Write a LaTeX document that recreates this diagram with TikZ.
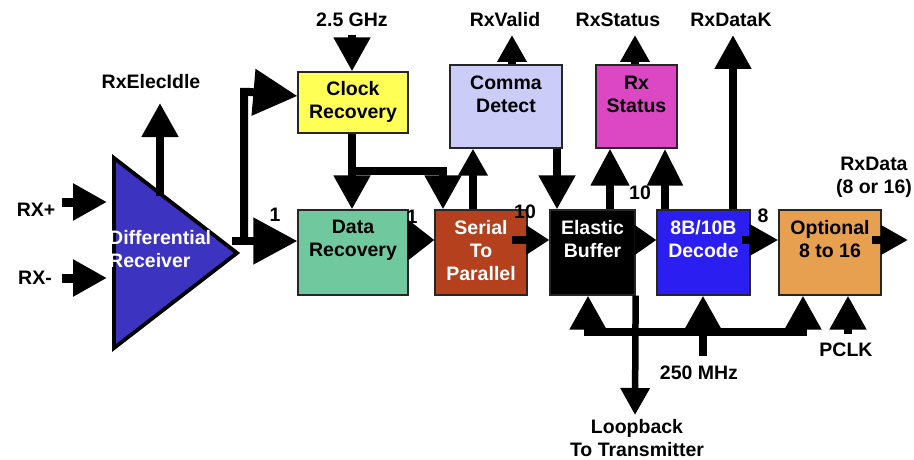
\documentclass[tikz,border=0pt]{standalone}
\usepackage{fontspec}
\setmainfont{Liberation Sans}
\usetikzlibrary{arrows.meta}
\definecolor{clkyellow}{RGB}{255,255,85}
\definecolor{drgreen}{RGB}{112,200,158}
\definecolor{s2pbrown}{RGB}{180,64,30}
\definecolor{commalav}{RGB}{204,204,248}
\definecolor{rxsmag}{RGB}{220,72,196}
\definecolor{decblue}{RGB}{42,30,240}
\definecolor{optorange}{RGB}{230,160,80}
\definecolor{diffblue}{RGB}{60,52,192}
\begin{document}
\begin{tikzpicture}[x=1pt,y=-1pt,
  font=\fontsize{19.5}{23}\selectfont\bfseries,
  box/.style={draw=black!85, line width=1.3pt, inner sep=0pt},
  txt/.style={align=center, inner sep=0pt},
  wire/.style={line width=8pt},
  bighead/.style={wire, -{Triangle[width=45pt,length=44pt]}},
  midhead/.style={wire, -{Triangle[width=35pt,length=34pt]}},
  smlhead/.style={wire, -{Triangle[width=28pt,length=27pt]}}]
\useasboundingbox (0,0) rectangle (914,460);

% differential receiver
\draw[fill=diffblue, line width=3.8pt, line join=miter]
  (114,158) coordinate (dtop) -- (237,253) coordinate (dapex) -- (114,348) coordinate (dbot) -- cycle;
\node[txt, anchor=west, align=left, text=white] (difftxt) at (109,249) {Differential\\Receiver};
\coordinate (dout) at (232,241);
\coordinate (eidle) at (160,196);
\coordinate (rxp) at (62,202);
\coordinate (rxm) at (62,278);

% processing blocks
\node[box, fill=clkyellow, minimum width=110pt, minimum height=61pt] (clk) at (353,102.5) {};
\node[box, fill=drgreen, minimum width=110pt, minimum height=85pt] (drec) at (353,252.5) {};
\node[box, fill=s2pbrown, minimum width=92pt, minimum height=85pt] (s2p) at (481,252.5) {};
\node[box, fill=commalav, minimum width=112pt, minimum height=83pt] (comma) at (506,106.5) {};
\node[box, fill=black, minimum width=85pt, minimum height=85pt] (ebuf) at (592.5,252.5) {};
\node[box, fill=rxsmag, minimum width=81pt, minimum height=83pt] (rxs) at (636.5,106.5) {};
\node[box, fill=decblue, minimum width=93pt, minimum height=85pt] (dec) at (703.5,252.5) {};
\node[box, fill=optorange, minimum width=102pt, minimum height=85pt] (opt) at (830,252.5) {};

\node[txt] (clkt) at (353,102) {Clock\\Recovery};
\node[txt] (drect) at (353,240) {Data\\Recovery};
\node[txt, text=white] (s2pt) at (481,251) {Serial\\To\\Parallel};
\node[txt] (commat) at (506,94) {Comma\\Detect};
\node[txt, text=white] (ebuft) at (592.5,239) {Elastic\\Buffer};
\node[txt] (rxst) at (636.5,94) {Rx\\Status};
\node[txt, text=white] (dect) at (703.5,239) {8B/10B\\Decode};
\node[txt] (optt) at (830,239) {Optional\\8 to 16};

% external signal labels
\node[txt] (lrxp) at (36,210) {RX+};
\node[txt] (lrxm) at (35,278) {RX-};
\node[txt] (lidle) at (151,82) {RxElecIdle};
\node[txt] (lghz) at (352,20) {2.5 GHz};
\node[txt] (lvalid) at (505,20) {RxValid};
\node[txt] (lstat) at (618,20) {RxStatus};
\node[txt] (ldatak) at (731,20) {RxDataK};
\node[txt] (ldata) at (874,177) {RxData\\(8 or 16)};
\node[txt] (lpclk) at (846,350) {PCLK};
\node[txt] (lmhz) at (699,373) {250 MHz};
\node[txt] (lloop) at (637,438) {Loopback\\To Transmitter};

% bus width labels
\node[txt] at (275,215) {1};
\node[txt] at (412,217) {1};
\node[txt] at (525,212) {10};
\node[txt] at (640,193) {10};
\node[txt] at (763,216) {8};

% inputs and receiver outputs
\draw[midhead, line width=9pt] (rxp) -- (107,202);
\draw[midhead, line width=9pt] (rxm) -- (107,278);
\draw[midhead] (eidle) -- (160,103);
\draw[bighead] (dout) -- (drec.west |- dout);
\coordinate (split) at (244,241);
\draw[bighead] (split) -- (244,92) -- (250,92) -- (clk.west |- 0,96);

% clock recovery and data path
\draw[midhead] (352,35) -- (352,0 |- clk.north);
\draw[midhead] (352,0 |- clk.south) -- (352,0 |- drec.north);
\draw[midhead] (352,171) -| (443,0 |- s2p.north);
\draw[smlhead] (473,0 |- s2p.north) -- (473,0 |- comma.south);
\draw[wire, -{Triangle[width=40pt,length=27pt]}] (drec.east |- 0,240) -- (s2p.west |- 0,240);
\draw[wire, -{Triangle[width=28pt,length=23pt]}] (512,240) -- (ebuf.west |- 0,240);
\draw[midhead] (557,0 |- comma.south) -- (557,0 |- ebuf.north);
\draw[wire, -{Triangle[width=37pt,length=37pt]}] (610,0 |- ebuf.north) -- (610,0 |- rxs.south);
\draw[wire, -{Triangle[width=34pt,length=37pt]}] (665,0 |- dec.north) -- (665,0 |- rxs.south);
\draw[wire, -{Triangle[width=29pt,length=22pt]}] (ebuf.east |- 0,240) -- (dec.west |- 0,240);
\draw[wire, -{Triangle[width=30pt,length=29pt]}] (742,240) -- (opt.west |- 0,240);
\draw[smlhead] (872,240) -- (908,240);

% status outputs
\draw[smlhead] (512,0 |- comma.north) -- (512,35);
\draw[smlhead] (635,0 |- rxs.north) -- (635,35);
\draw[midhead] (733,0 |- dec.north) -- (733,35);

% 250 MHz clock distribution and PCLK
\coordinate (busl) at (588,332);
\coordinate (busm) at (703,332);
\coordinate (busr) at (803,332);
\draw[wire] (584,332) -- (807,332);
\draw[wire] (busm) -- (703,356);
\draw[midhead] (busl) -- (588,0 |- ebuf.south);
\draw[midhead] (busm) -- (703,0 |- dec.south);
\draw[midhead] (busr) -- (803,0 |- opt.south);
\draw[midhead] (848,334) -- (848,0 |- opt.south);

% loopback path
\draw[line width=6.5pt, -{Triangle[width=28pt,length=27pt]}] (ebuf.south east) -- (635,415);
\end{tikzpicture}
\end{document}
